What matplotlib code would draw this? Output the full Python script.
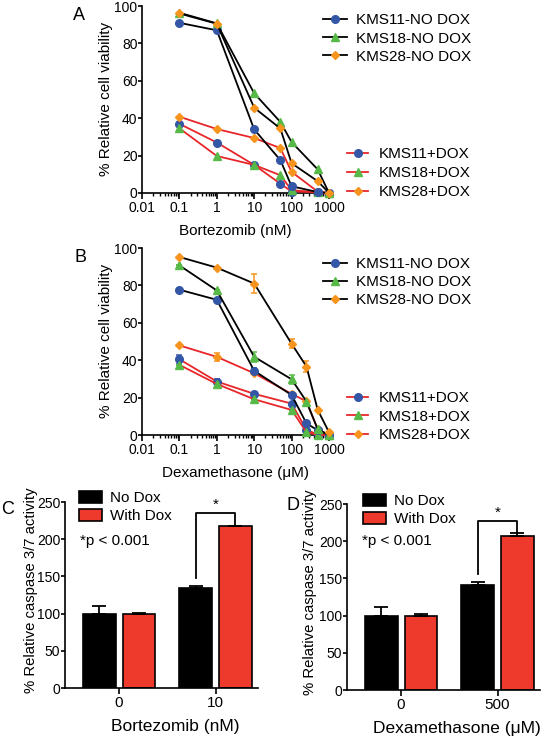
import matplotlib
matplotlib.use("Agg")
import matplotlib.pyplot as plt
from matplotlib.lines import Line2D
import numpy as np

plt.rcParams["font.family"] = ["Liberation Sans", "DejaVu Sans"]

# ── dose-response data ───────────────────────────────────────────────────────
bort_dose = [0.1, 1, 10, 50, 100, 500, 1000]
bort_kms11_nodox = [91, 87, 34, 17.6, 3.6, 0.5, 0]
bort_kms18_nodox = [96.4, 90.7, 53.3, 38, 27.2, 12.6, 0]
bort_kms28_nodox = [96, 90.5, 45.6, 34.5, 15.9, 6.3, 0]
bort_kms11_dox = [37, 27, 15, 5, 0.8, 0.5, 0]
bort_kms18_dox = [34.6, 19.8, 15, 9.5, 1.5, 0.4, 0]
bort_kms28_dox = [40.8, 34.2, 29.4, 24, 11.3, 0.7, 0]

dex_dose = [0.1, 1, 10, 100, 250, 500, 1000]
dex_kms11_nodox = [77.7, 72.3, 34.3, 21.4, 6.2, 2.5, 0]
dex_kms18_nodox = [90.7, 77.3, 41.8, 29.8, 17.9, 3, 0]
dex_kms28_nodox = [95.2, 89.5, 81, 48.8, 36.6, 13.4, 1.5]
dex_kms11_dox = [40.5, 28.6, 22, 16.8, 2.7, 0.3, 0]
dex_kms18_dox = [37.5, 27.3, 19.1, 13.4, 1.5, 0, 0]
dex_kms28_dox = [47.9, 41.8, 33, 22, 18, 3, 0]

dex_kms11_nodox_err = [0, 0, 1.5, 1, 0, 0, 0]
dex_kms18_nodox_err = [0, 0, 2.5, 2.5, 0, 0, 0]
dex_kms28_nodox_err = [0, 0, 5, 2.5, 3, 0, 0]
dex_kms11_dox_err = [2.5, 1.5, 0, 0, 0, 0, 0]
dex_kms18_dox_err = [0, 0, 0, 0, 0, 0, 0]
dex_kms28_dox_err = [0, 2, 0, 0, 0, 0, 0]

# ── caspase 3/7 data ─────────────────────────────────────────────────────────
bort_groups = ["0", "10"]
bort_nodox = [100, 134.8]
bort_nodox_err = [10.5, 2.5]
bort_withdox = [100, 217.5]
bort_withdox_err = [0.6, 0.8]

dex_groups = ["0", "500"]
dex_nodox = [100, 141]
dex_nodox_err = [11, 4.6]
dex_withdox = [100, 207.5]
dex_withdox_err = [2.5, 3]

BLUE = "#3456a6"
GREEN = "#57b947"
ORANGE = "#f7941e"
RED_LINE = "#e8262a"
RED_BAR = "#ee3a2c"

W, H = 544, 736
FS = 11
TICK_FS = 10


def _px_axes(fig, left, top, right, bottom):
    """pixel box -> axes"""
    return fig.add_axes([left / W, 1 - bottom / H, (right - left) / W, (bottom - top) / H])


def _style(ax):
    for s in ("top", "right"):
        ax.spines[s].set_visible(False)
    for s in ("left", "bottom"):
        ax.spines[s].set_linewidth(1.2)
    ax.tick_params(which="major", direction="out", length=4, width=1.2,
                   labelsize=TICK_FS, pad=1.5)
    ax.tick_params(which="minor", direction="out", length=2.2, width=1.0)
    ax.tick_params(axis="y", which="major", length=2.8, pad=0.5)


def _series_handle(line_color, marker, mcolor, ms):
    return Line2D([], [], color=line_color, lw=1.3, marker=marker, ms=ms,
                  mfc=mcolor, mec=mcolor)


MARKERS = [("o", BLUE, 5.5), ("^", GREEN, 5.8), ("D", ORANGE, 3.8)]


def _dose_panel(ax, dose, nodox, dox, nodox_err, dox_err, xlabel, leg_px):
    for ys, errs, lc in ((dox, dox_err, RED_LINE), (nodox, nodox_err, "black")):
        for y, e, (m, mc, ms) in zip(ys, errs, MARKERS):
            ax.errorbar(dose, y, yerr=e, color=lc, lw=1.3, marker=m, ms=ms,
                        mfc=mc, mec=mc, ecolor=mc, elinewidth=1.1, capsize=2.5,
                        capthick=1.1, clip_on=False, zorder=3)
    ax.set_xscale("log")
    ax.set_xlim(0.01, 1000)
    ax.set_ylim(0, 100)
    ax.set_yticks([0, 20, 40, 60, 80, 100])
    ax.set_xticks([0.01, 0.1, 1, 10, 100, 1000])
    ax.set_xticklabels(["0.01", "0.1", "1", "10", "100", "1000"])
    _style(ax)
    ax.set_ylabel("% Relative cell viability", fontsize=FS)
    ax.yaxis.set_label_coords(-0.155, 0.505)
    ax.set_xlabel(xlabel, fontsize=FS, labelpad=7)

    names = ["KMS11", "KMS18", "KMS28"]
    (nx, ny), (dx, dy) = leg_px
    h1 = [_series_handle("black", m, mc, ms) for m, mc, ms in MARKERS]
    leg1 = ax.legend(h1, [n + "-NO DOX" for n in names], loc="upper left",
                     bbox_to_anchor=(nx / W, 1 - ny / H), bbox_transform=ax.figure.transFigure,
                     frameon=False, fontsize=FS, borderpad=0, borderaxespad=0,
                     handlelength=1.55, handletextpad=0.6, labelspacing=0.27, numpoints=1)
    ax.add_artist(leg1)
    h2 = [_series_handle(RED_LINE, m, mc, ms) for m, mc, ms in MARKERS]
    ax.legend(h2, [n + "+DOX" for n in names], loc="upper left",
              bbox_to_anchor=(dx / W, 1 - dy / H), bbox_transform=ax.figure.transFigure,
              frameon=False, fontsize=FS, borderpad=0, borderaxespad=0,
              handlelength=1.4, handletextpad=0.65, labelspacing=0.31, numpoints=1)


def _bar_panel(ax, groups, nodox, nodox_err, withdox, withdox_err, xlabel,
               ylab_x, leg_px, note_px):
    x = np.arange(len(groups))
    width, off = 0.34, 0.206
    ekw = dict(capsize=5, elinewidth=1.3, capthick=1.3, ecolor="black")
    ax.bar(x - off, nodox, width, color="black", edgecolor="black", lw=1.2,
           yerr=[np.zeros(len(x)), nodox_err], error_kw=ekw, label="No Dox")
    ax.bar(x + off, withdox, width, color=RED_BAR, edgecolor="black", lw=1.2,
           yerr=[np.zeros(len(x)), withdox_err], error_kw=ekw, label="With Dox")
    ax.set_xlim(-0.56, 1.44)
    ax.set_ylim(0, 250)
    ax.set_yticks([0, 50, 100, 150, 200, 250])
    ax.set_xticks(x)
    ax.set_xticklabels(groups)
    _style(ax)
    ax.tick_params(axis="x", labelsize=11)
    ax.set_ylabel("% Relative caspase 3/7 activity", fontsize=10.7)
    ax.yaxis.set_label_coords(ylab_x, 0.525)
    ax.set_xlabel(xlabel, fontsize=12.5)
    ax.xaxis.set_label_coords(0.57, -0.165)

    # significance bracket between the two bars of the second group
    lo = nodox[1] + nodox_err[1] + 10
    hi = withdox[1] + withdox_err[1] + 17
    ax.plot([x[1] - off, x[1] - off, x[1] + off, x[1] + off],
            [lo, hi, hi, withdox[1] + withdox_err[1]], color="black", lw=1.3,
            clip_on=False)
    ax.text(x[1], hi + 1, "*", ha="center", va="bottom", fontsize=FS)

    lx, ly = leg_px
    ax.legend(loc="upper left", bbox_to_anchor=(lx / W, 1 - ly / H),
              bbox_transform=ax.figure.transFigure, frameon=False, fontsize=FS,
              borderpad=0, borderaxespad=0, handlelength=1.5, handleheight=0.8,
              handletextpad=0.5, labelspacing=0.25)
    ax.figure.text(note_px[0] / W, 1 - note_px[1] / H, "*p < 0.001",
                   fontsize=FS, va="center", ha="left")


fig = plt.figure(figsize=(W / 100, H / 100), dpi=100)

ax_a = _px_axes(fig, 142, 6, 329, 193)
_dose_panel(ax_a, bort_dose,
            [bort_kms11_nodox, bort_kms18_nodox, bort_kms28_nodox],
            [bort_kms11_dox, bort_kms18_dox, bort_kms28_dox],
            [None] * 3, [None] * 3,
            "Bortezomib (nM)", ((323, 13.5), (347, 147.5)))

ax_b = _px_axes(fig, 142, 248, 329, 435)
_dose_panel(ax_b, dex_dose,
            [dex_kms11_nodox, dex_kms18_nodox, dex_kms28_nodox],
            [dex_kms11_dox, dex_kms18_dox, dex_kms28_dox],
            [dex_kms11_nodox_err, dex_kms18_nodox_err, dex_kms28_nodox_err],
            [dex_kms11_dox_err, dex_kms18_dox_err, dex_kms28_dox_err],
            "Dexamethasone (\u03bcM)", ((323, 257), (347, 391)))

ax_c = _px_axes(fig, 65, 502, 258, 688)
_bar_panel(ax_c, bort_groups, bort_nodox, bort_nodox_err, bort_withdox,
           bort_withdox_err, "Bortezomib (nM)", -0.14, (79, 491), (80, 541))

ax_d = _px_axes(fig, 347, 504, 540, 690)
_bar_panel(ax_d, dex_groups, dex_nodox, dex_nodox_err, dex_withdox,
           dex_withdox_err, "Dexamethasone (\u03bcM)", -0.155, (363, 494), (362, 541.5))

# panel letters
for letter, (px, py) in zip("ABCD", [(73, 15), (75, 257.5), (1, 510), (287, 506)]):
    fig.text(px / W, 1 - py / H, letter, fontsize=13, ha="left", va="center")

fig.savefig("out.png", dpi=100)
